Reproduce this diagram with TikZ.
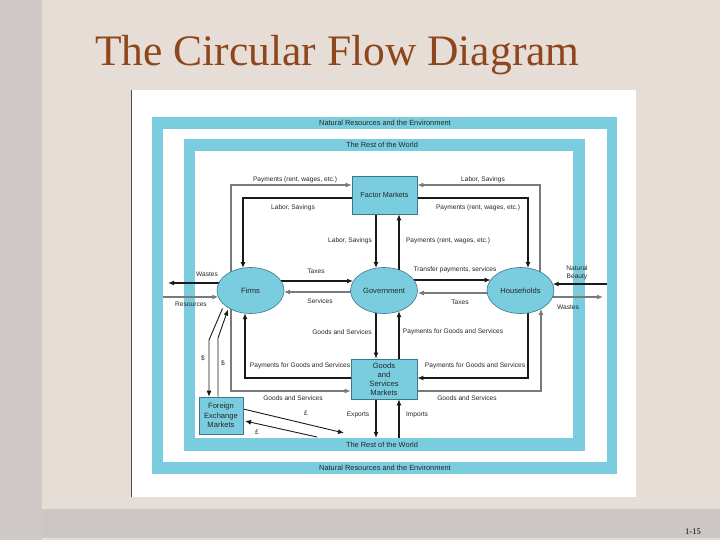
\documentclass[tikz,border=0pt]{standalone}
\usepackage{fontspec}
\setmainfont{Liberation Serif}
\newfontfamily\arialf{Liberation Sans}
\usetikzlibrary{arrows.meta,shapes.geometric,calc}
\definecolor{cy}{RGB}{122,205,222}
\definecolor{cyd}{RGB}{60,120,140}
\definecolor{slidebg}{RGB}{231,221,215}
\definecolor{stripc}{RGB}{206,200,198}
\definecolor{bandc}{RGB}{204,198,196}
\definecolor{titc}{RGB}{142,70,28}
\pgfdeclarelayer{bg}
\pgfsetlayers{bg,main}
\begin{document}
\begin{tikzpicture}[x=1pt,y=-1pt,
  lbl/.style={font=\arialf\fontsize{6.6}{7.6}\selectfont,inner sep=0pt,text=black!85,align=center},
  frl/.style={font=\arialf\fontsize{7.4}{8.5}\selectfont,inner sep=0pt,text=black!85},
  nd/.style={font=\arialf\fontsize{7.6}{8.9}\selectfont,fill=cy,draw=cyd,line width=0.6pt,inner sep=0pt,align=center,text=black!85},
  ell/.style={nd,ellipse,minimum width=67pt,minimum height=46pt},
  boxn/.style={nd,rectangle},
  blk/.style={draw=black!90,line width=1.3pt},
  gry/.style={draw=black!52,line width=1.3pt},
  arr/.style={-{Latex[length=6pt,width=5pt]}}]
\useasboundingbox (0,0) rectangle (720,540);

% nodes
\node[ell] (firms) at (250.5,290.5) {Firms};
\node[ell] (gov) at (384,290.5) {Government};
\node[ell] (hh) at (520.5,290.5) {Households};
\node[boxn,minimum width=65pt,minimum height=38pt,font=\arialf\fontsize{7.2}{8}\selectfont] (fm) at (384.5,195) {Factor Markets};
\node[boxn,minimum width=66pt,minimum height=40pt] (gsm) at (384,379) {Goods\\and\\Services\\Markets};
\node[boxn,minimum width=44pt,minimum height=37pt,font=\arialf\fontsize{7.6}{9.4}\selectfont] (fx) at (221,415.5) {Foreign\\Exchange\\Markets};
\node[anchor=base west,font=\fontsize{43.5}{50}\selectfont,text=titc,inner sep=0pt] (title) at (95,66) {The Circular Flow Diagram};
\node[anchor=base east,font=\fontsize{8.5}{10}\selectfont,inner sep=0pt] (pg) at (701,534) {1-15};

\begin{pgfonlayer}{bg}
% slide background
\fill[slidebg] (0,0) rectangle (720,540);
\fill[bandc] (0,509) rectangle (720,538);
\fill[stripc] (0,0) rectangle (42,540);
\fill[white] (131,90) rectangle (636,497);
\draw[black!70,line width=1pt] (131.5,90) -- (131.5,497);
% frames
\fill[cy] (152,117) rectangle (617,474);
\fill[white] (163,129) rectangle (607,462);
\fill[cy] (184,139) rectangle (585,451);
\fill[white] (195,151) rectangle (573,438);
\node[frl] (nr1) at (385,122.5) {Natural Resources and the Environment};
\node[frl] (nr2) at (385,467.5) {Natural Resources and the Environment};
\node[frl] (rw1) at (382,144.5) {The Rest of the World};
\node[frl] (rw2) at (382,444.5) {The Rest of the World};
\coordinate (rwb) at (0,438);

% factor market flows
\draw[gry,arr] (231,0 |- firms.center) -- (231,185) -- (fm.west |- 0,185);
\draw[blk,arr] (fm.west |- 0,198) -- (243,198) -- ($(firms.center)+(-7.5,-22.4)$);
\draw[blk,arr] (376,0 |- fm.south) -- ($(gov.center)+(-8,-22.4)$);
\draw[blk,arr] (399,0 |- gov.center) -- (399,0 |- fm.south);
\draw[gry,arr] (540,0 |- hh.center) -- (540,185) -- (fm.east |- 0,185);
\draw[blk,arr] (fm.east |- 0,198) -- (528,198) -- ($(hh.center)+(7.5,-22.4)$);

% government flows
\draw[blk,arr] (firms.center |- 0,281) -- ($(gov.center)+(-31,-9.5)$);
\draw[gry,arr] (gov.center |- 0,292) -- ($(firms.center)+(33.4,1.5)$);
\draw[blk,arr] (gov.center |- 0,280) -- ($(hh.center)+(-29.8,-10.5)$);
\draw[gry,arr] (hh.center |- 0,293) -- ($(gov.center)+(33.8,2.5)$);

% environment flows
\draw[blk,arr] (firms.center |- 0,283) -- (168,283);
\draw[gry,arr] (163,297) -- ($(firms.center)+(-32.2,6.5)$);
\draw[blk,arr] (607,284) -- ($(hh.center)+(32.2,-6.5)$);
\draw[gry,arr] (hh.center |- 0,297) -- (603,297);

% goods and services market flows
\draw[blk,arr] (376,0 |- gov.center) -- (376,0 |- gsm.north);
\draw[blk,arr] (399,0 |- gsm.north) -- ($(gov.center)+(15,20.6)$);
\draw[blk,arr] (gsm.west |- 0,378) -- (245,378) -- ($(firms.center)+(-5.5,22.6)$);
\draw[gry,arr] (231,0 |- firms.center) -- (231,391) -- (gsm.west |- 0,391);
\draw[blk,arr] (528,0 |- hh.center) -- (528,378) -- (gsm.east |- 0,378);
\draw[gry,arr] (gsm.east |- 0,391) -- (541,391) -- ($(hh.center)+(20.5,18.3)$);
\draw[blk,arr] (376,0 |- gsm.south) -- (376,0 |- rwb);
\draw[blk,arr] (399,0 |- rwb) -- (399,0 |- gsm.south);

% foreign exchange
\draw[blk,line width=0.9pt,arr] ($(firms.center)+(-28,18)$) -- (209,340) -- (209,0 |- fx.north);
\draw[blk,line width=0.9pt,arr] (218,0 |- fx.north) -- (218,338) -- ($(firms.center)+(-22.5,19)$);
\draw[blk,line width=0.9pt,arr] (fx.east |- 0,409) -- (344,433);
\draw[blk,line width=0.9pt,arr] (317,437) -- (245,421);

% labels
\node[lbl] (l1) at (295,179.5) {Payments (rent, wages, etc.)};
\node[lbl] (l2) at (293,207.5) {Labor, Savings};
\node[lbl] (l3) at (350,241) {Labor, Savings};
\node[lbl] (l4) at (448,240.5) {Payments (rent, wages, etc.)};
\node[lbl] (l5) at (483,180) {Labor, Savings};
\node[lbl] (l6) at (478,208) {Payments (rent, wages, etc.)};
\node[lbl] (l7) at (316,271) {Taxes};
\node[lbl] (l8) at (320,301.5) {Services};
\node[lbl] (l9) at (455,269.5) {Transfer payments, services};
\node[lbl] (l10) at (460,302) {Taxes};
\node[lbl] (l11) at (207,274) {Wastes};
\node[lbl] (l12) at (191,304) {Resources};
\node[lbl] (l13) at (577,272.5) {Natural\\Beauty};
\node[lbl] (l14) at (568,307) {Wastes};
\node[lbl] (l15) at (342,332) {Goods and Services};
\node[lbl] (l16) at (453,332) {Payments for Goods and Services};
\node[lbl] (l17) at (300,366) {Payments for Goods and Services};
\node[lbl] (l18) at (293,398) {Goods and Services};
\node[lbl] (l19) at (475,365.5) {Payments for Goods and Services};
\node[lbl] (l20) at (467,398) {Goods and Services};
\node[lbl] (l21) at (358,414.5) {Exports};
\node[lbl] (l22) at (417,414.5) {Imports};
\node[lbl] (l23) at (203,358) {\$};
\node[lbl] (l24) at (223,363) {\$};
\node[lbl] (l25) at (306,413) {£};
\node[lbl] (l26) at (257,432) {£};
\end{pgfonlayer}
\end{tikzpicture}
\end{document}
